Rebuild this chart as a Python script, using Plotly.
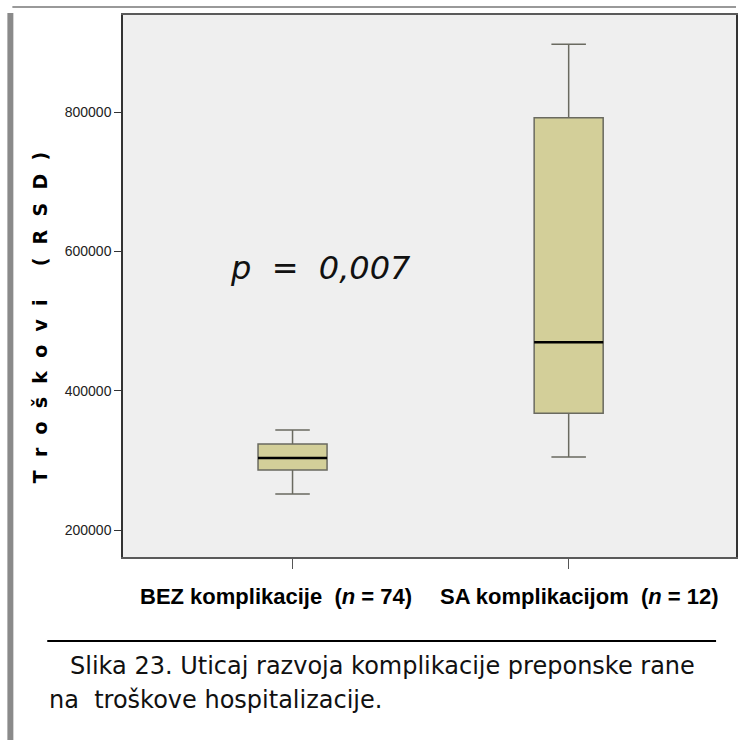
import plotly.graph_objects as go

# ---- data ----
groups = ["BEZ komplikacije", "SA komplikacijom"]
group_n = [74, 12]
lower_whisker = [251700, 304800]
q1_values = [286000, 367500]
median_values = [303400, 469500]
q3_values = [323500, 792000]
upper_whisker = [343600, 897300]
y_ticks = [200000, 400000, 600000, 800000]
p_text = "p\u00a0\u00a0=\u00a0\u00a00,007"
y_title = "Troškovi"
y_unit = "(RSD)"

BOX_W = 0.25
FILL = "#d3cf99"
EDGE = "#6a6a60"
NB = "\u00a0"

def spaced(s, gap=2):
    return (NB * gap).join(s)

fig = go.Figure()
xs = list(range(len(groups)))
for i in xs:
    fig.add_trace(go.Box(
        x=[i], q1=[q1_values[i]], median=[median_values[i]], q3=[q3_values[i]],
        lowerfence=[lower_whisker[i]], upperfence=[upper_whisker[i]],
        width=BOX_W, whiskerwidth=0.5, fillcolor=FILL,
        line=dict(color=EDGE, width=1.5), boxpoints=False, showlegend=False,
        hoverinfo="skip"))
    fig.add_trace(go.Scatter(
        x=[i - BOX_W / 2, i + BOX_W / 2], y=[median_values[i], median_values[i]],
        mode="lines", line=dict(color="black", width=2.5), showlegend=False,
        hoverinfo="skip"))

PW, PB = 615, 557   # plot width, plot bottom (px) for paper-coordinate decorations
def px(xp):
    return (xp - 123) / PW
def py(yp):
    return (PB - yp) / 542

# category labels
label_centers = [276, 581]
for i in xs:
    fig.add_annotation(
        x=px(label_centers[i]), y=py(597), xref="paper", yref="paper",
        xanchor="center", yanchor="middle",
        text=f"<b>{groups[i]}{NB}{NB}(<i>n</i>{NB}={NB}{group_n[i]})</b>", showarrow=False,
        font=dict(family="Liberation Sans, Arial, sans-serif", size=22, color="black"))

# p-value
fig.add_annotation(x=0.1, y=576000, xref="x", yref="y", text=f"<i>{p_text}</i>",
                   xanchor="center", yanchor="middle", showarrow=False,
                   font=dict(family="DejaVu Sans, sans-serif", size=32, color="#111"))

fig.update_layout(
    width=738, height=740,
    margin=dict(l=123, r=0, t=15, b=183),
    paper_bgcolor="white", plot_bgcolor="#efefef",
    xaxis=dict(range=[-0.614, 1.606], tickvals=xs, ticktext=["", ""],
               ticks="outside", ticklen=10, tickcolor="#555", tickwidth=1,
               showline=True, linecolor="#5a5a5a", linewidth=2, mirror=True,
               showgrid=False, zeroline=False, fixedrange=True),
    yaxis=dict(range=[161235, 939411], tickvals=y_ticks,
               ticktext=[str(v) for v in y_ticks],
               ticks="outside", ticklen=7, tickcolor="#333", tickwidth=1,
               tickfont=dict(family="Liberation Sans, Arial, sans-serif", size=14, color="#222"),
               showline=True, linecolor="#333", linewidth=1.5, mirror=True,
               showgrid=False, zeroline=False, fixedrange=True),
    font=dict(family="Liberation Sans, Arial, sans-serif"),
)

# y-axis title (letter-spaced, rotated)
fig.add_annotation(
    xref="paper", yref="paper", x=px(40), y=py(318), xanchor="center", yanchor="middle",
    text="<b>" + spaced(y_title) + NB * 5 + spaced(y_unit) + "</b>", textangle=-90,
    showarrow=False,
    font=dict(family="DejaVu Sans, sans-serif", size=19, color="black"))

# caption
fig.add_annotation(
    xref="paper", yref="paper", x=px(68), y=py(666), xanchor="left", yanchor="middle",
    text="Slika 23. Uticaj razvoja komplikacije preponske rane",
    showarrow=False, font=dict(family="DejaVu Sans, sans-serif", size=24, color="#111"))
fig.add_annotation(
    xref="paper", yref="paper", x=px(47), y=py(700), xanchor="left", yanchor="middle",
    text=f"na{NB} troškove hospitalizacije.",
    showarrow=False, font=dict(family="DejaVu Sans, sans-serif", size=24, color="#111"))

# decorative page frame and caption rule
fig.add_shape(type="line", xref="paper", yref="paper",
              x0=px(47), x1=px(718), y0=py(641), y1=py(641),
              line=dict(color="black", width=2))
fig.add_shape(type="line", xref="paper", yref="paper",
              x0=px(12), x1=px(738), y0=py(7), y1=py(7),
              line=dict(color="#999", width=2))
fig.add_shape(type="rect", xref="paper", yref="paper",
              x0=px(7), x1=px(13), y0=py(740), y1=py(13),
              line=dict(width=0), fillcolor="#8a8a8a")

fig.write_html("out.html", config={"displayModeBar": False},
               post_script="document.body.style.margin='0px';")
